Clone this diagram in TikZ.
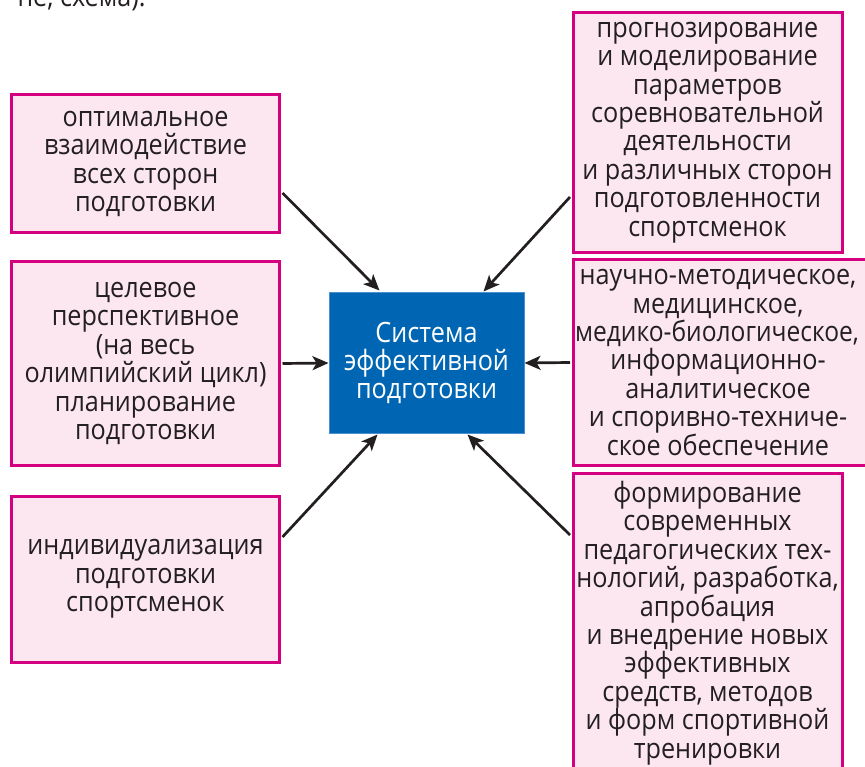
\documentclass[tikz,border=0pt]{standalone}
\usepackage{fontspec}
\setmainfont[FakeStretch=0.9]{Open Sans}
\usetikzlibrary{arrows.meta,calc}
\definecolor{pinkline}{HTML}{D4007F}
\definecolor{pinkfill}{HTML}{FCE7F1}
\definecolor{bluefill}{HTML}{0066B3}
\definecolor{blueline}{HTML}{4A8FD0}
\definecolor{txt}{HTML}{231F20}
\tikzset{
  pbox/.style={draw=pinkline, line width=3pt, fill=pinkfill, text=txt, align=center,
    inner sep=0pt, font=\fontsize{28}{28.4}\selectfont},
  cbox/.style={draw=blueline, line width=1pt, fill=bluefill, text=white, align=center,
    inner sep=0pt, font=\fontsize{28}{28.4}\selectfont},
  arr/.style={draw=txt, line width=2.7pt, -{Stealth[length=16pt,width=14pt,inset=4pt]}}
}
\begin{document}
\begin{tikzpicture}[x=1pt,y=-1pt]
\useasboundingbox (0,0) rectangle (865,767);
\node[anchor=base west, text=txt, font=\fontsize{28}{28.4}\selectfont] (top) at (14,7) {пе, схема).};
\node[pbox, minimum width=268pt, minimum height=138pt] (l1) at (145.5,164) {оптимальное\\взаимодействие\\всех сторон\\подготовки};
\node[pbox, minimum width=268pt, minimum height=203pt] (l2) at (145.5,363.5) {целевое\\перспективное\\(на весь\\олимпийский цикл)\\планирование\\подготовки};
\node[pbox, minimum width=268pt, minimum height=166pt] (l3) at (145.5,579) {индивидуализация\\подготовки\\спортсменок};
\node[cbox, minimum width=195pt, minimum height=140pt] (c) at (426.5,363) {Система\\эффективной\\подготовки};
\node[pbox, minimum width=269pt, minimum height=240pt] (r1) at (707.5,132.5) {прогнозирование\\и моделирование\\параметров\\соревновательной\\деятельности\\и различных сторон\\подготовленности\\спортсменок};
\node[pbox, minimum width=300pt, minimum height=205pt] (r2) at (723,362.5) {\hspace*{-10pt}научно-методическое,\\\hspace*{-10pt}медицинское,\\\hspace*{-12pt}\scalebox{0.975}[1]{медико-биологическое,}\\\hspace*{-10pt}информационно-\\\hspace*{-10pt}аналитическое\\\hspace*{-10pt}и споривно-техниче-\\\hspace*{-10pt}ское обеспечение};
\node[pbox, minimum width=269pt, minimum height=300pt] (r3) at (707.5,623) {формирование\\современных\\педагогических тех-\\нологий, разработка,\\апробация\\и внедрение новых\\эффективных\\средств, методов\\и форм спортивной\\тренировки};
\draw[arr] ($(l1.east)+(1.5,29)$) -- ($(c.north west)+(51,-2)$);
\draw[arr] ($(r1.west)+(-1.5,64.5)$) -- ($(c.north east)+(-41,-1)$);
\draw[arr] ($(l2.east)+(1.5,0)$) -- (c.west);
\draw[arr] ($(r2.west)+(-1.5,0)$) -- (c.east);
\draw[arr] ($(l3.east)+(1.5,-42)$) -- ($(c.south west)+(49,1)$);
\draw[arr] ($(r3.west)+(-1.5,-88)$) -- ($(c.south east)+(-57,1)$);
\end{tikzpicture}
\end{document}
